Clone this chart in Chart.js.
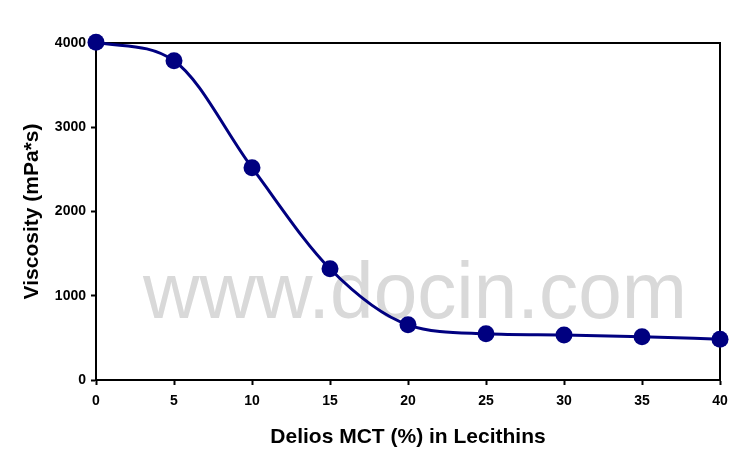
<!DOCTYPE html>
<html>
<head>
<meta charset="utf-8">
<script src="https://cdn.jsdelivr.net/npm/chart.js@4"></script>
<style>
  html, body { margin: 0; padding: 0; background: #fff; }
  #wrap { width: 753px; height: 460px; }
</style>
</head>
<body>
<div id="wrap"><canvas id="viscChart" width="753" height="460"></canvas></div>
<script>
// Delios MCT content (%) vs viscosity
const mctPercent = [0, 5, 10, 15, 20, 25, 30, 35, 40];
const viscosity = [4010, 3790, 2520, 1320, 655, 548, 533, 512, 485];
const watermark = "www.docin.com";

const FONT = "'Liberation Sans', Arial, sans-serif";

// watermark behind the line, plus the top/right frame
const backdrop = {
    id: "backdrop",
    beforeDatasetsDraw(chart) {
        const { ctx, chartArea: a } = chart;
        ctx.save();
        ctx.fillStyle = "#d9d9d9";
        ctx.font = "80px " + FONT;
        ctx.textAlign = "center";
        ctx.textBaseline = "alphabetic";
        ctx.fillText(watermark, 415, 318, 544);

        ctx.strokeStyle = "#000";
        ctx.lineWidth = 2;
        ctx.beginPath();
        ctx.moveTo(a.left, a.top);
        ctx.lineTo(a.right, a.top);
        ctx.lineTo(a.right, a.bottom);
        ctx.stroke();
        ctx.restore();
    }
};

const ctx = document.getElementById("viscChart").getContext("2d");
new Chart(ctx, {
    type: "line",
    data: {
        datasets: [{
            data: mctPercent.map((x, i) => ({ x: x, y: viscosity[i] })),
            borderColor: "#000080",
            backgroundColor: "#000080",
            borderWidth: 3,
            pointRadius: 8.5,
            pointHoverRadius: 8.5,
            pointBorderWidth: 0,
            cubicInterpolationMode: "monotone",
            fill: false,
            clip: false,
        }],
    },
    options: {
        responsive: false,
        animation: false,
        layout: { padding: { top: 43, right: 33, left: 0, bottom: 0 } },
        plugins: {
            legend: { display: false },
            tooltip: { enabled: false },
        },
        scales: {
            x: {
                type: "linear",
                min: 0,
                max: 40,
                ticks: {
                    stepSize: 5,
                    color: "#000",
                    padding: 8,
                    maxRotation: 0,
                    font: { family: FONT, size: 14, weight: "bold" },
                    callback: (v) => String(v),
                },
                grid: { drawOnChartArea: false, drawTicks: true, tickLength: 5, tickWidth: 2, color: "#000" },
                border: { display: true, color: "#000", width: 2 },
                title: {
                    display: true,
                    text: "Delios MCT (%) in Lecithins",
                    color: "#000",
                    font: { family: FONT, size: 21, weight: "bold" },
                    padding: { top: 0, bottom: 10 },
                },
                afterFit(scale) { scale.height = 80; },
            },
            y: {
                min: 0,
                max: 4000,
                ticks: {
                    stepSize: 1000,
                    color: "#000",
                    padding: 5,
                    font: { family: FONT, size: 14, weight: "bold" },
                    callback: (v) => String(v),
                },
                grid: { drawOnChartArea: false, drawTicks: true, tickLength: 5, tickWidth: 2, color: "#000" },
                border: { display: true, color: "#000", width: 2 },
                title: {
                    display: true,
                    text: "Viscosity (mPa*s)",
                    color: "#000",
                    font: { family: FONT, size: 21, weight: "bold" },
                    padding: { top: 20, bottom: 0 },
                },
                afterFit(scale) { scale.width = 96; },
            },
        },
    },
    plugins: [backdrop],
});
</script>
</body>
</html>
